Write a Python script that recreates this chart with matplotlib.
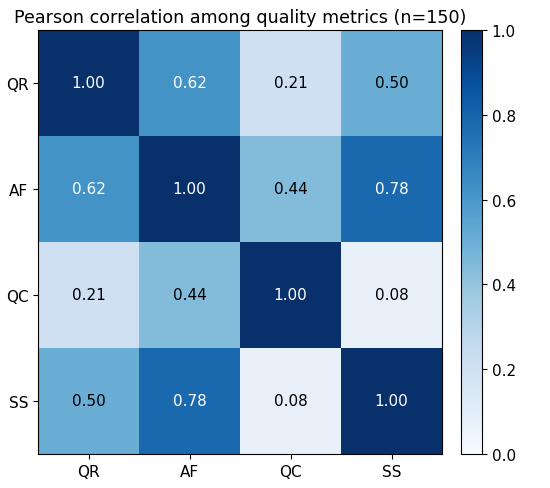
import numpy as np
import matplotlib.pyplot as plt

labels = ['QR', 'AF', 'QC', 'SS']
corr = np.array([
    [1.00, 0.62, 0.21, 0.50],
    [0.62, 1.00, 0.44, 0.78],
    [0.21, 0.44, 1.00, 0.08],
    [0.50, 0.78, 0.08, 1.00],
])

fig = plt.figure(figsize=(5.5, 4.89), dpi=100)
ax = fig.add_axes([38/550, 1 - 455/489, 404/550, 424/489])
cax = fig.add_axes([461/550, 1 - 455/489, 21/550, 424/489])

im = ax.imshow(corr, cmap='Blues', vmin=0, vmax=1, aspect='auto')
ax.set_xticks(range(len(labels)))
ax.set_yticks(range(len(labels)))
ax.set_xticklabels(labels, fontsize=11)
ax.set_yticklabels(labels, fontsize=11)
for i in range(len(labels)):
    for j in range(len(labels)):
        v = corr[i, j]
        ax.text(j, i, f'{v:.2f}', ha='center', va='center', fontsize=11,
                color='white' if v > 0.5 else 'black')
ax.set_title('Pearson correlation among quality metrics (n=150)', fontsize=12.6)
cb = fig.colorbar(im, cax=cax)
cb.ax.tick_params(labelsize=11)
fig.savefig('out.png')
